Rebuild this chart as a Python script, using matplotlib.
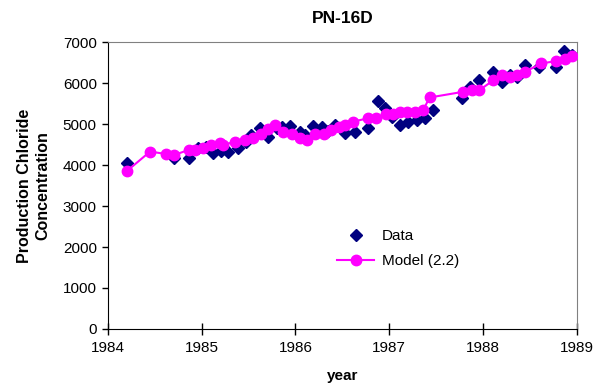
import matplotlib
matplotlib.use("Agg")
import matplotlib.pyplot as plt

data_year = [1984.20, 1984.70, 1984.86, 1984.96, 1985.05, 1985.12, 1985.21, 1985.28, 1985.39, 1985.47,
             1985.53, 1985.62, 1985.71, 1985.80, 1985.86, 1985.94, 1986.05, 1986.10, 1986.19, 1986.28,
             1986.35, 1986.42, 1986.53, 1986.63, 1986.77, 1986.88, 1986.95, 1987.03, 1987.11, 1987.20,
             1987.29, 1987.38, 1987.47, 1987.78, 1987.86, 1987.96, 1988.11, 1988.20, 1988.29, 1988.36,
             1988.45, 1988.60, 1988.78, 1988.86, 1988.95]
data_val = [4040, 4180, 4180, 4420, 4450, 4290, 4350, 4330, 4420, 4560,
            4730, 4900, 4690, 4900, 4930, 4950, 4810, 4730, 4960, 4930,
            4840, 4970, 4780, 4810, 4900, 5560, 5390, 5180, 4980, 5060,
            5100, 5140, 5340, 5630, 5910, 6070, 6280, 6030, 6200, 6150,
            6440, 6400, 6400, 6790, 6680]

model_year = [1984.20, 1984.45, 1984.62, 1984.70, 1984.86, 1984.93, 1985.01, 1985.10, 1985.19, 1985.23,
              1985.35, 1985.46, 1985.55, 1985.63, 1985.71, 1985.78, 1985.87, 1985.96, 1986.05, 1986.12,
              1986.21, 1986.30, 1986.38, 1986.46, 1986.53, 1986.61, 1986.77, 1986.86, 1986.96, 1987.04,
              1987.11, 1987.19, 1987.27, 1987.36, 1987.43, 1987.79, 1987.88, 1987.96, 1988.11, 1988.20,
              1988.29, 1988.36, 1988.45, 1988.62, 1988.78, 1988.87, 1988.95]
model_val = [3850, 4330, 4270, 4240, 4370, 4370, 4410, 4490, 4530, 4490,
             4570, 4610, 4650, 4760, 4890, 4970, 4810, 4770, 4650, 4610,
             4770, 4770, 4850, 4930, 4970, 5060, 5140, 5140, 5240, 5240,
             5290, 5285, 5300, 5340, 5650, 5790, 5830, 5830, 6070, 6190,
             6150, 6190, 6280, 6480, 6540, 6600, 6660]

x_ticks = [1984, 1985, 1986, 1987, 1988, 1989]
y_ticks = [0, 1000, 2000, 3000, 4000, 5000, 6000, 7000]

plt.rcParams['font.family'] = ['Liberation Sans', 'DejaVu Sans']

fig = plt.figure(figsize=(5.96, 3.87), dpi=100)
ax = fig.add_axes([0.181, 0.150, 0.787, 0.741])

ax.plot(data_year, data_val, linestyle='none', marker='D', markersize=6.5,
        color='#000080', label='Data', zorder=2)
ax.plot(model_year, model_val, color='#FF00FF', marker='o', markersize=7.5,
        linewidth=1.5, label='Model (2.2)', zorder=3)

ax.set_xlim(1984, 1989)
ax.set_ylim(0, 7000)
ax.set_xticks(x_ticks)
ax.set_xticklabels([str(t) for t in x_ticks])
ax.set_yticks(y_ticks)
ax.tick_params(axis='x', direction='inout', length=8, width=1, labelsize=11, pad=5)
ax.tick_params(axis='y', direction='out', length=4, width=1, labelsize=11, pad=4)

for side in ['right', 'top']:
    ax.spines[side].set_color('#808080')
for side in ['left', 'bottom']:
    ax.spines[side].set_color('black')

ax.set_title('PN-16D', fontsize=12.5, fontweight='bold', pad=14)
ax.set_xlabel('year', fontsize=11, fontweight='bold', labelpad=10)
ax.set_ylabel('Production Chloride\nConcentration', fontsize=11.5, fontweight='bold',
              labelpad=9, linespacing=1.25)

ax.legend(loc='upper left', bbox_to_anchor=(0.46, 0.395), frameon=False, fontsize=11,
          handlelength=2.4, labelspacing=0.7, handletextpad=0.5)

fig.savefig('out.png', dpi=100)
